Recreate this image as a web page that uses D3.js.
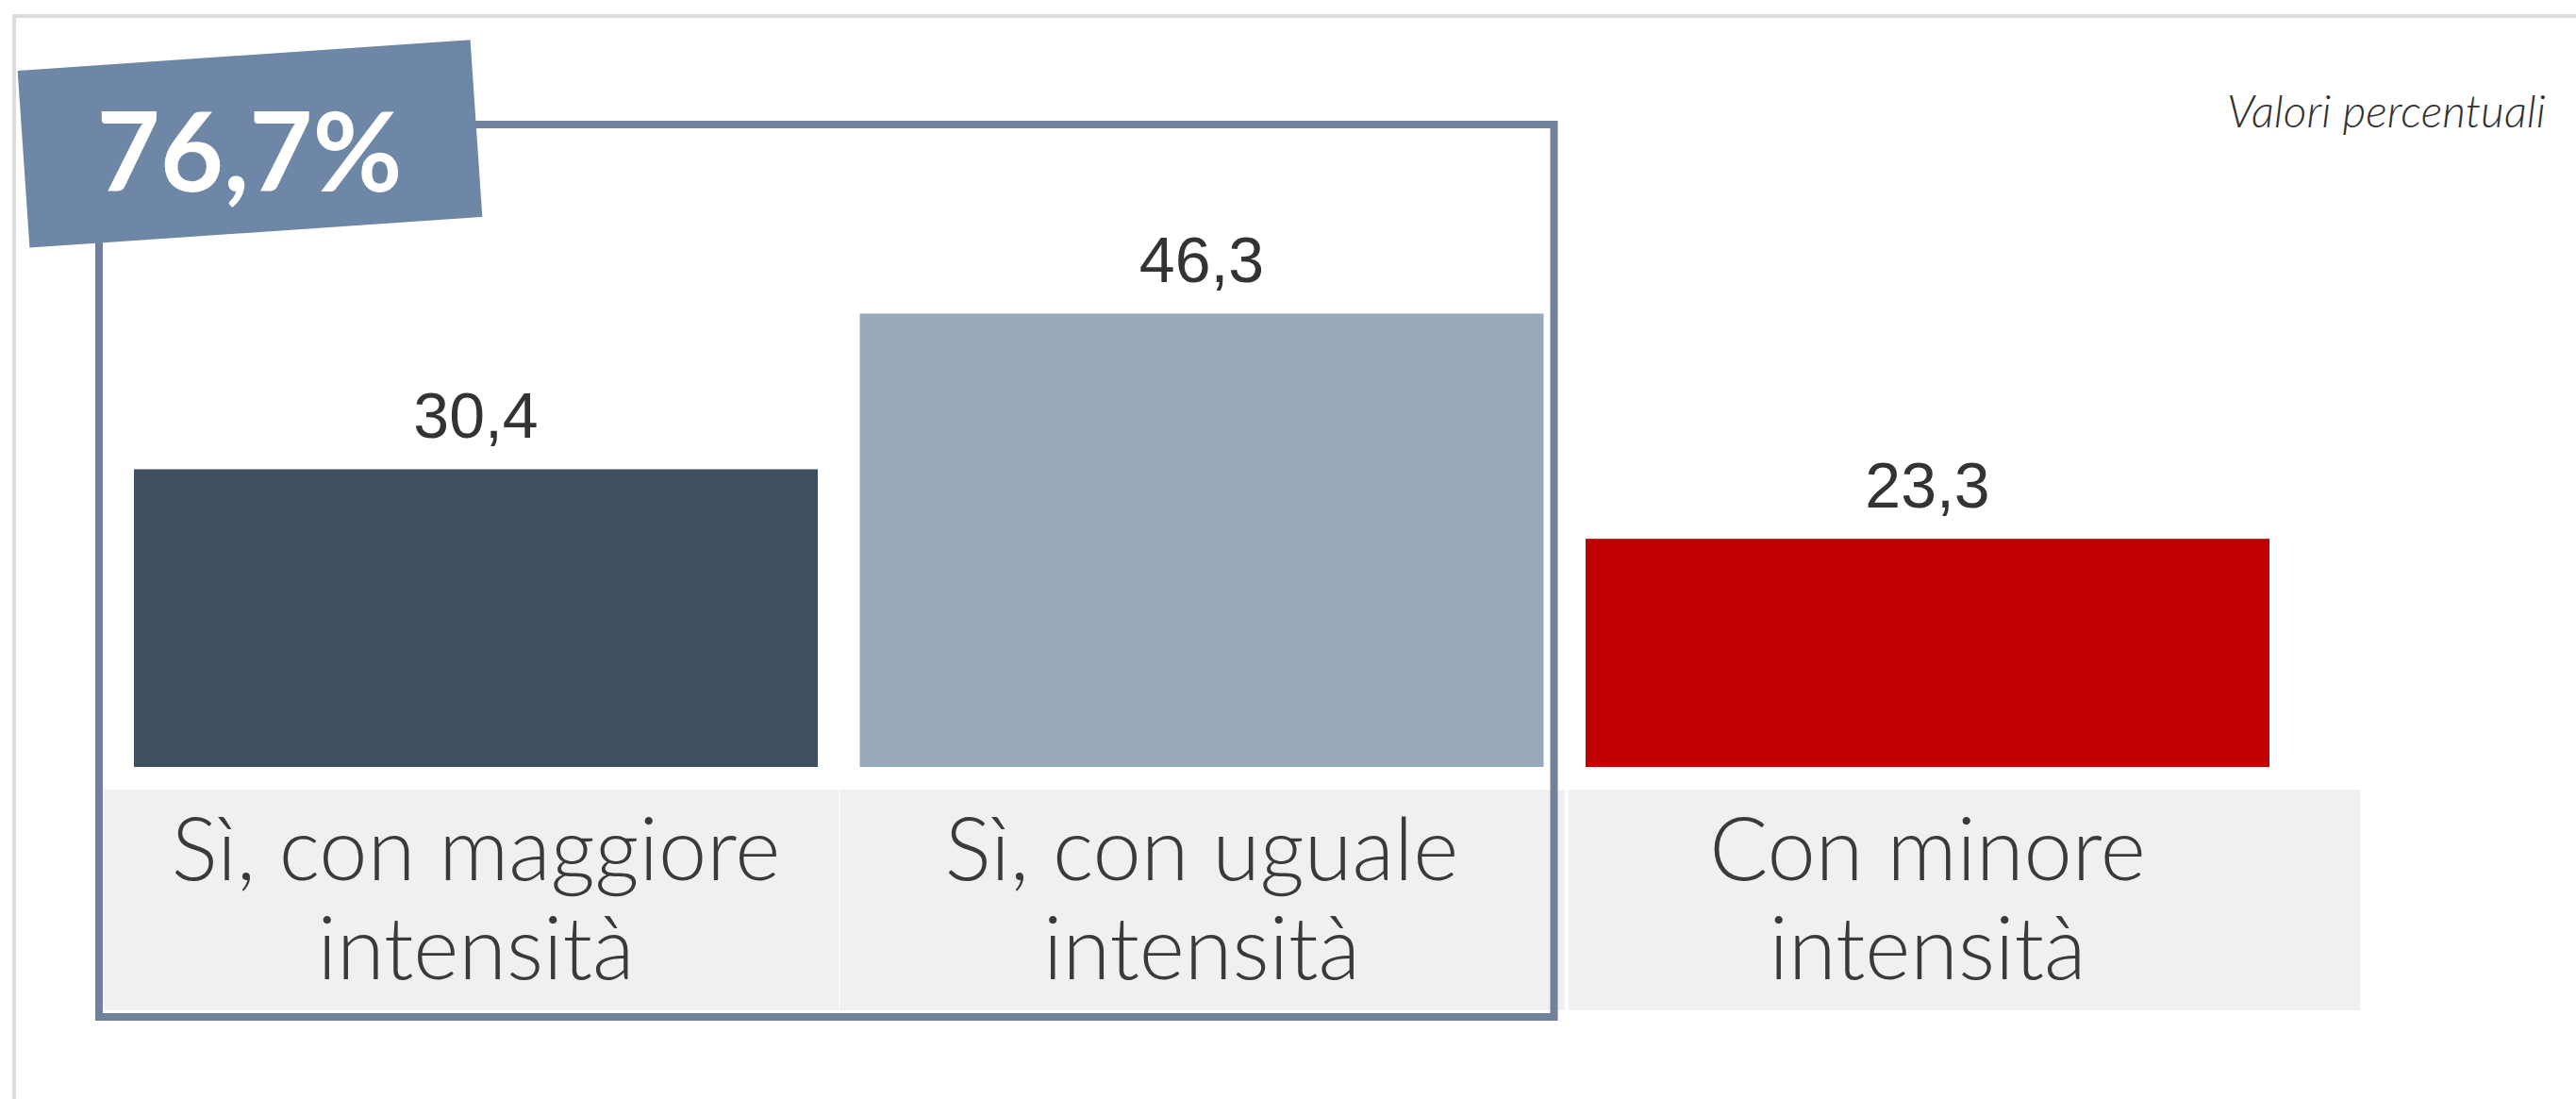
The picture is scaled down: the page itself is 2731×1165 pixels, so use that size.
<!DOCTYPE html>
<html>
<head>
<meta charset="utf-8">
<script src="https://cdn.jsdelivr.net/npm/d3@7"></script>
<style>
  html, body { margin: 0; padding: 0; background: #ffffff; }
  svg { display: block; }
</style>
</head>
<body>
<svg id="chart" width="2731" height="1165"></svg>
<script>
// ---- data ----
const categories = [
  ["Sì, con maggiore", "intensità"],
  ["Sì, con uguale", "intensità"],
  ["Con minore", "intensità"]
];
const categoryKeys = ["maggiore", "uguale", "minore"];
const values = [30.4, 46.3, 23.3];
const barColors = ["#414f63", "#9aaabd", "#c00000"];
const highlightedKeys = ["maggiore", "uguale"];
const unitNote = "Valori percentuali";

// ---- setup ----
const W = 2731, H = 1165;
const svg = d3.select("#chart");
const itLocale = d3.formatLocale({decimal: ",", thousands: ".", grouping: [3], currency: ["€", ""]});
const fmt = itLocale.format(".1f");

const x = d3.scaleBand().domain(categoryKeys).range([142, 2406]).paddingInner(0.0578).paddingOuter(0);
const y = d3.scaleLinear().domain([0, 100]).range([813, 813 - 1038]);
const bw = x.bandwidth();
const step = x.step();
const gap = step - bw;

// outer frame
svg.append("rect")
  .attr("x", 15).attr("y", 17).attr("width", W + 20).attr("height", H + 20)
  .attr("fill", "none").attr("stroke", "#dcdcdc").attr("stroke-width", 4);

// grey category cells
const cellTop = 837, cellBottom = 1071;
const last = categoryKeys.length - 1;
const cellLeft = (d, i) => i === 0 ? x(d) - 32 : x(d) - gap / 2 + (i === last ? 4 : 1);
const cellRight = (d, i) => i === last ? x(d) + bw + 96 : x(d) + bw + gap / 2;
svg.selectAll("rect.cell").data(categoryKeys).join("rect")
  .attr("class", "cell")
  .attr("x", (d, i) => cellLeft(d, i))
  .attr("width", (d, i) => cellRight(d, i) - cellLeft(d, i))
  .attr("y", cellTop).attr("height", cellBottom - cellTop)
  .attr("fill", "#f0f0f0");

// bars
svg.selectAll("rect.bar").data(values).join("rect")
  .attr("class", "bar")
  .attr("x", (d, i) => x(categoryKeys[i]))
  .attr("width", bw)
  .attr("y", d => y(d))
  .attr("height", d => y(0) - y(d))
  .attr("fill", (d, i) => barColors[i]);

// value labels
svg.selectAll("text.val").data(values).join("text")
  .attr("class", "val")
  .attr("x", (d, i) => x(categoryKeys[i]) + bw / 2)
  .attr("y", d => y(d) - 33)
  .attr("text-anchor", "middle")
  .attr("font-family", "'Liberation Sans', Arial, sans-serif")
  .attr("font-size", 68)
  .attr("fill", "#333333")
  .text(d => fmt(d));

// category labels
const catG = svg.selectAll("text.cat").data(categories).join("text")
  .attr("class", "cat")
  .attr("text-anchor", "middle")
  .attr("font-family", "Lato, 'Open Sans', sans-serif")
  .attr("font-weight", 300)
  .attr("font-size", 92)
  .attr("fill", "#3a3a3a");
catG.each(function(lines, i) {
  const cx = x(categoryKeys[i]) + bw / 2;
  d3.select(this).selectAll("tspan").data(lines).join("tspan")
    .attr("x", cx)
    .attr("y", (l, j) => 933 + j * 105)
    .text(l => l);
});

// highlight outline around first two categories
const hx0 = x(highlightedKeys[0]) - 37;
const hx1 = x(highlightedKeys[highlightedKeys.length - 1]) + bw + 11;
svg.append("rect")
  .attr("x", hx0).attr("y", 132)
  .attr("width", hx1 - hx0).attr("height", 1078 - 132)
  .attr("fill", "none").attr("stroke", "#6f819b").attr("stroke-width", 8);

// tilted total label
const total = d3.sum(highlightedKeys.map(k => values[categoryKeys.indexOf(k)]));
const tag = svg.append("g").attr("transform", "translate(264.5,152.5)");
tag.append("rect")
  .attr("x", -240).attr("y", -94).attr("width", 481).attr("height", 188)
  .attr("transform", "rotate(-3.9)")
  .attr("fill", "#6f87a6");
tag.append("text")
  .attr("x", 0).attr("y", 50)
  .attr("text-anchor", "middle")
  .attr("font-family", "Lato, 'Open Sans', sans-serif")
  .attr("font-weight", "bold")
  .attr("font-size", 116)
  .attr("fill", "#ffffff")
  .text(fmt(total) + "%");

// unit note
svg.append("text")
  .attr("x", 2699).attr("y", 135)
  .attr("text-anchor", "end")
  .attr("font-family", "Lato, 'Open Sans', sans-serif")
  .attr("font-style", "italic")
  .attr("font-weight", 300)
  .attr("font-size", 48)
  .attr("fill", "#333333")
  .text(unitNote);
</script>
</body>
</html>
